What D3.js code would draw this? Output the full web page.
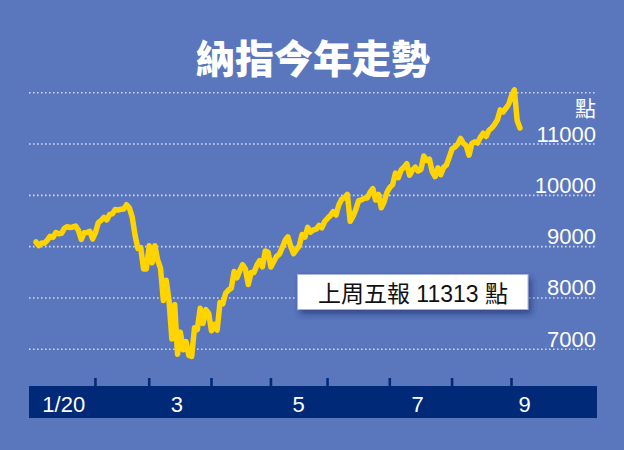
<!DOCTYPE html>
<html><head><meta charset="utf-8">
<script src="https://cdn.jsdelivr.net/npm/d3@7"></script>
<style>html,body{margin:0;padding:0;background:#5a76bd}svg{display:block}</style>
</head><body><svg id="c" width="624" height="450"></svg>
<script>
// ---- data (trading days, closing points) ----
const dates = [
"2020-01-02","2020-01-03","2020-01-06","2020-01-07","2020-01-08","2020-01-09","2020-01-10","2020-01-13","2020-01-14","2020-01-15","2020-01-16","2020-01-17","2020-01-21","2020-01-22","2020-01-23","2020-01-24","2020-01-27","2020-01-28","2020-01-29","2020-01-30","2020-01-31",
"2020-02-03","2020-02-04","2020-02-05","2020-02-06","2020-02-07","2020-02-10","2020-02-11","2020-02-12","2020-02-13","2020-02-14","2020-02-18","2020-02-19","2020-02-20","2020-02-21","2020-02-24","2020-02-25","2020-02-26","2020-02-27","2020-02-28",
"2020-03-02","2020-03-03","2020-03-04","2020-03-05","2020-03-06","2020-03-09","2020-03-10","2020-03-11","2020-03-12","2020-03-13","2020-03-16","2020-03-17","2020-03-18","2020-03-19","2020-03-20","2020-03-23","2020-03-24","2020-03-25","2020-03-26","2020-03-27","2020-03-30","2020-03-31",
"2020-04-01","2020-04-02","2020-04-03","2020-04-06","2020-04-07","2020-04-08","2020-04-09","2020-04-13","2020-04-14","2020-04-15","2020-04-16","2020-04-17","2020-04-20","2020-04-21","2020-04-22","2020-04-23","2020-04-24","2020-04-27","2020-04-28","2020-04-29","2020-04-30",
"2020-05-01","2020-05-04","2020-05-05","2020-05-06","2020-05-07","2020-05-08","2020-05-11","2020-05-12","2020-05-13","2020-05-14","2020-05-15","2020-05-18","2020-05-19","2020-05-20","2020-05-21","2020-05-22","2020-05-26","2020-05-27","2020-05-28","2020-05-29",
"2020-06-01","2020-06-02","2020-06-03","2020-06-04","2020-06-05","2020-06-08","2020-06-09","2020-06-10","2020-06-11","2020-06-12","2020-06-15","2020-06-16","2020-06-17","2020-06-18","2020-06-19","2020-06-22","2020-06-23","2020-06-24","2020-06-25","2020-06-26","2020-06-29","2020-06-30",
"2020-07-01","2020-07-02","2020-07-06","2020-07-07","2020-07-08","2020-07-09","2020-07-10","2020-07-13","2020-07-14","2020-07-15","2020-07-16","2020-07-17","2020-07-20","2020-07-21","2020-07-22","2020-07-23","2020-07-24","2020-07-27","2020-07-28","2020-07-29","2020-07-30","2020-07-31",
"2020-08-03","2020-08-04","2020-08-05","2020-08-06","2020-08-07","2020-08-10","2020-08-11","2020-08-12","2020-08-13","2020-08-14","2020-08-17","2020-08-18","2020-08-19","2020-08-20","2020-08-21","2020-08-24","2020-08-25","2020-08-26","2020-08-27","2020-08-28","2020-08-31",
"2020-09-01","2020-09-02","2020-09-03","2020-09-04"
];
const values = [
9092,9021,9071,9069,9129,9203,9179,9274,9251,9259,9357,9389,9371,9384,9402,9315,9139,9270,9275,9299,9151,
9273,9468,9509,9572,9521,9628,9639,9726,9712,9731,9733,9817,9751,9577,9221,8966,8981,8566,8567,
9018,8684,9018,8739,8576,7951,8344,7952,7202,7875,6905,7335,6990,7151,6880,6861,7418,7384,7798,7502,7774,7700,
7361,7487,7373,7913,7887,8091,8154,8192,8516,8393,8532,8650,8561,8263,8495,8495,8635,8730,8608,8915,8890,
8605,8711,8809,8854,8980,9121,9192,9003,8863,8944,9015,9235,9185,9376,9285,9325,9340,9412,9369,9490,
9552,9608,9683,9616,9814,9925,9954,10020,9493,9589,9726,9896,9911,9943,9946,10056,10131,9909,10017,9757,9874,10059,
10155,10208,10434,10344,10493,10548,10617,10391,10489,10550,10474,10503,10767,10680,10706,10461,10363,10536,10402,10543,10588,10745,
10903,10941,10998,11108,11011,10968,10783,11012,11043,11019,11130,11211,11146,11265,11312,11380,11466,11665,11625,11696,11775,
11940,12056,11458,11313
];
const yTicks = [7000, 8000, 9000, 10000, 11000, 12000];
const yTickLabels = ["7000", "8000", "9000", "10000", "11000", ""];
const monthLabels = ["1/20", "3", "5", "7", "9"];
const labelMonths = [1, 3, 5, 7, 9];
const titleText = "納指今年走勢";
const unitText = "點";
const noteText = "上周五報 11313 點";

// ---- drawing ----
const svg = d3.select("#c");
const W = 624, H = 450;
const cjk = "'Noto Sans CJK TC','Noto Sans CJK SC',sans-serif";
const latin = "'Liberation Sans',Arial,'Noto Sans CJK TC',sans-serif";

svg.append("rect").attr("width", W).attr("height", H).attr("fill", "#5a76bd");

const defs = svg.append("defs");
const f = defs.append("filter").attr("id", "sh").attr("x", "-10%").attr("y", "-30%").attr("width", "130%").attr("height", "180%");
f.append("feDropShadow").attr("dx", 3).attr("dy", 4).attr("stdDeviation", 3)
  .attr("flood-color", "#1c2d6a").attr("flood-opacity", 0.65);

const x = d3.scaleLinear().domain([0, values.length - 1]).range([36, 520]);
const y = d3.scaleLinear().domain([7000, 12000]).range([349.3, 92.7]);

// title
svg.append("text").attr("x", 313).attr("y", 73).attr("text-anchor", "middle")
  .attr("font-family", cjk).attr("font-weight", 900).attr("font-size", 39)
  .attr("fill", "#fff").text(titleText);

// gridlines
svg.append("g").selectAll("line").data(yTicks).join("line")
  .attr("x1", 29).attr("x2", 597)
  .attr("y1", d => y(d)).attr("y2", d => y(d))
  .attr("stroke", "#d2d8ea").attr("stroke-width", 1.6)
  .attr("stroke-dasharray", "1.6 2.4");

// y labels
svg.append("g").selectAll("text").data(yTicks).join("text")
  .attr("x", 596).attr("y", d => y(d) - 2.5).attr("text-anchor", "end")
  .attr("font-family", latin).attr("font-size", 22).attr("fill", "#fff")
  .text((d, i) => yTickLabels[i]);
svg.append("text").attr("x", 596).attr("y", 116).attr("text-anchor", "end")
  .attr("font-family", cjk).attr("font-size", 21).attr("fill", "#fff").text(unitText);

// x axis bar
svg.append("rect").attr("x", 29).attr("y", 386).attr("width", 568).attr("height", 32).attr("fill", "#002a78");
const parsed = dates.map(d => d3.timeParse("%Y-%m-%d")(d));
const firstIdx = [];
parsed.forEach((d, i) => { if (i > 0 && d.getMonth() !== parsed[i - 1].getMonth()) firstIdx.push(i); });
svg.append("g").selectAll("line").data(firstIdx).join("line")
  .attr("x1", d => x(d)).attr("x2", d => x(d)).attr("y1", 378).attr("y2", 387)
  .attr("stroke", "#002a78").attr("stroke-width", 2.6);
const monthStart = m => parsed.findIndex(d => d.getMonth() + 1 === m);
svg.append("g").selectAll("text").data(monthLabels).join("text")
  .attr("x", (d, i) => Math.min(x(monthStart(labelMonths[i]) + 9.8), x(values.length - 1) + 4.5))
  .attr("y", 411.5).attr("text-anchor", "middle")
  .attr("font-family", latin).attr("font-size", 22).attr("fill", "#fff")
  .text(d => d);

// line
svg.append("path").datum(values)
  .attr("d", d3.line().x((d, i) => x(i)).y(d => y(d)))
  .attr("fill", "none").attr("stroke", "#ffd400").attr("stroke-width", 5.5)
  .attr("stroke-linejoin", "round").attr("stroke-linecap", "round");

// note box
svg.append("rect").attr("x", 297.5).attr("y", 274.5).attr("width", 230.5).attr("height", 35)
  .attr("fill", "#fff").attr("stroke", "#a8b4da").attr("stroke-width", 1)
  .attr("filter", "url(#sh)");
svg.append("text").attr("x", 413).attr("y", 302).attr("text-anchor", "middle")
  .attr("font-family", latin).attr("font-size", 23).attr("fill", "#111")
  .text(noteText);
</script></body></html>
